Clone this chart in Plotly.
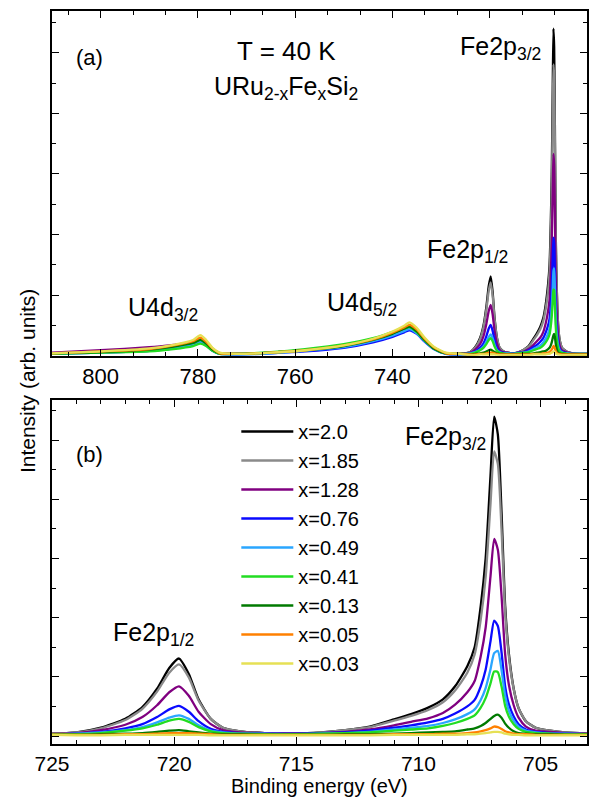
import plotly.graph_objects as go

# ---------------- data ----------------
# binding energy grid (eV): U 4d region + Fe 2p region
E_U = [810, 800, 790, 785, 781, 779.5, 778.3, 777, 775.5, 772, 765, 758, 750, 744,
       740, 737.5, 736.5, 735, 733.5, 731.5, 729, 726]
E_FE = [724, 723, 722, 721.3, 720.7, 720.2, 719.8, 719.4, 719.0, 718.5, 718, 717.3,
        716.3, 715, 714, 713, 712, 711, 710.3, 709.6, 709, 708.5, 708, 707.7, 707.45,
        707.25, 707.05, 706.9, 706.75, 706.6, 706.45, 706.3, 706.1, 705.9, 705.6,
        705.2, 704.6, 704, 703, 701.5, 700]
energy = E_U + E_FE

labels = ["x=2.0", "x=1.85", "x=1.28", "x=0.76", "x=0.49", "x=0.41", "x=0.13", "x=0.05", "x=0.03"]
colors = ["#000000", "#8a8a8a", "#800080", "#0a0aff", "#2aa6ff", "#22dd22", "#007a00", "#ff8000", "#e6e055"]

I_200 = [0.04, 0.07, 0.11, 0.16, 0.22, 0.27, 0.21, 0.11, 0.04, 0.03, 0.05, 0.09, 0.17, 0.27, 0.37, 0.45, 0.48, 0.40, 0.27, 0.13, 0.04, 0.03,
         0.06, 0.14, 0.29, 0.49, 0.80, 1.15, 1.31, 1.05, 0.62, 0.29, 0.14, 0.08, 0.05, 0.04, 0.06, 0.10, 0.16, 0.28, 0.37, 0.48,
         0.62, 0.84, 1.18, 1.50, 2.20, 3.00, 4.40, 5.40, 5.10, 3.80, 2.20, 1.40, 0.80, 0.47, 0.25, 0.14, 0.09, 0.06, 0.04, 0.03, 0.03]
I_185 = [0.04, 0.07, 0.11, 0.16, 0.22, 0.26, 0.20, 0.10, 0.04, 0.03, 0.05, 0.09, 0.17, 0.27, 0.37, 0.44, 0.47, 0.39, 0.26, 0.12, 0.04, 0.03,
         0.06, 0.13, 0.27, 0.46, 0.75, 1.07, 1.21, 0.99, 0.60, 0.29, 0.14, 0.08, 0.05, 0.04, 0.06, 0.10, 0.15, 0.26, 0.34, 0.44,
         0.57, 0.77, 1.07, 1.38, 1.97, 2.68, 3.92, 4.81, 4.60, 3.50, 2.10, 1.35, 0.79, 0.47, 0.25, 0.14, 0.09, 0.06, 0.04, 0.03, 0.03]
I_128 = [0.05, 0.09, 0.14, 0.18, 0.22, 0.26, 0.20, 0.10, 0.04, 0.03, 0.05, 0.09, 0.17, 0.27, 0.37, 0.44, 0.47, 0.39, 0.26, 0.12, 0.04, 0.03,
         0.05, 0.10, 0.19, 0.32, 0.52, 0.74, 0.84, 0.68, 0.41, 0.20, 0.10, 0.06, 0.05, 0.04, 0.05, 0.07, 0.11, 0.18, 0.24, 0.30,
         0.39, 0.53, 0.74, 0.93, 1.35, 1.83, 2.70, 3.33, 3.15, 2.38, 1.38, 0.87, 0.52, 0.31, 0.16, 0.09, 0.07, 0.05, 0.04, 0.03, 0.03]
I_076 = [0.03, 0.05, 0.08, 0.12, 0.18, 0.22, 0.17, 0.08, 0.03, 0.02, 0.04, 0.07, 0.13, 0.22, 0.31, 0.39, 0.42, 0.36, 0.24, 0.11, 0.03, 0.02,
         0.04, 0.07, 0.13, 0.20, 0.32, 0.45, 0.51, 0.41, 0.25, 0.12, 0.07, 0.05, 0.04, 0.04, 0.05, 0.06, 0.09, 0.14, 0.18, 0.23,
         0.29, 0.38, 0.50, 0.61, 0.84, 1.12, 1.60, 1.95, 1.86, 1.42, 0.84, 0.54, 0.33, 0.20, 0.11, 0.07, 0.05, 0.04, 0.03, 0.03, 0.03]
I_049 = [0.03, 0.05, 0.08, 0.12, 0.19, 0.23, 0.18, 0.09, 0.03, 0.02, 0.04, 0.08, 0.14, 0.24, 0.33, 0.41, 0.44, 0.37, 0.25, 0.11, 0.03, 0.02,
         0.04, 0.06, 0.10, 0.15, 0.23, 0.31, 0.35, 0.29, 0.18, 0.09, 0.06, 0.04, 0.04, 0.03, 0.04, 0.05, 0.07, 0.11, 0.14, 0.17,
         0.22, 0.28, 0.37, 0.45, 0.61, 0.81, 1.13, 1.40, 1.44, 1.12, 0.68, 0.43, 0.26, 0.16, 0.09, 0.06, 0.04, 0.04, 0.03, 0.03, 0.03]
I_041 = [0.03, 0.05, 0.07, 0.11, 0.16, 0.20, 0.16, 0.08, 0.03, 0.03, 0.06, 0.11, 0.19, 0.29, 0.39, 0.45, 0.47, 0.39, 0.26, 0.12, 0.04, 0.03,
         0.03, 0.05, 0.09, 0.13, 0.19, 0.26, 0.29, 0.24, 0.15, 0.08, 0.05, 0.04, 0.03, 0.03, 0.04, 0.05, 0.06, 0.09, 0.11, 0.13,
         0.17, 0.22, 0.29, 0.35, 0.48, 0.64, 0.89, 1.09, 1.08, 0.84, 0.51, 0.33, 0.20, 0.12, 0.07, 0.05, 0.04, 0.03, 0.03, 0.03, 0.03]
I_013 = [0.04, 0.06, 0.10, 0.15, 0.21, 0.26, 0.20, 0.10, 0.04, 0.03, 0.05, 0.09, 0.16, 0.26, 0.36, 0.45, 0.48, 0.40, 0.27, 0.12, 0.04, 0.03,
         0.02, 0.03, 0.04, 0.05, 0.07, 0.09, 0.10, 0.08, 0.06, 0.04, 0.03, 0.03, 0.02, 0.02, 0.02, 0.03, 0.03, 0.04, 0.05, 0.06,
         0.07, 0.08, 0.11, 0.13, 0.17, 0.22, 0.29, 0.34, 0.36, 0.31, 0.21, 0.14, 0.08, 0.05, 0.04, 0.03, 0.03, 0.02, 0.02, 0.02, 0.02]
I_005 = [0.04, 0.07, 0.11, 0.17, 0.24, 0.30, 0.23, 0.12, 0.04, 0.03, 0.05, 0.09, 0.17, 0.27, 0.38, 0.47, 0.51, 0.43, 0.29, 0.14, 0.04, 0.03,
         0.02, 0.02, 0.03, 0.03, 0.04, 0.05, 0.05, 0.05, 0.04, 0.03, 0.02, 0.02, 0.02, 0.02, 0.02, 0.02, 0.02, 0.03, 0.03, 0.03,
         0.04, 0.04, 0.05, 0.06, 0.08, 0.10, 0.13, 0.16, 0.15, 0.12, 0.08, 0.06, 0.04, 0.03, 0.03, 0.02, 0.02, 0.02, 0.02, 0.02, 0.02]
I_003 = [0.04, 0.07, 0.12, 0.18, 0.26, 0.34, 0.26, 0.13, 0.05, 0.03, 0.05, 0.09, 0.17, 0.28, 0.40, 0.50, 0.55, 0.46, 0.31, 0.15, 0.05, 0.03,
         0.01, 0.01, 0.02, 0.02, 0.02, 0.02, 0.02, 0.02, 0.02, 0.01, 0.01, 0.01, 0.01, 0.01, 0.01, 0.01, 0.01, 0.02, 0.02, 0.02,
         0.02, 0.02, 0.03, 0.03, 0.04, 0.05, 0.06, 0.07, 0.07, 0.06, 0.04, 0.03, 0.02, 0.02, 0.01, 0.01, 0.01, 0.01, 0.01, 0.01, 0.01]
series = [I_200, I_185, I_128, I_076, I_049, I_041, I_013, I_005, I_003]

TOP_TICKS = [800, 780, 760, 740, 720]
BOT_TICKS = [725, 720, 715, 710, 705]

# ---------------- figure ----------------
W, H = 594, 798
ML, MR, MT, MB = 52, 5, 11, 54
PW, PH = W - ML - MR, H - MT - MB


def px(x):
    return (x - ML) / PW


def py(y):
    return (H - MB - y) / PH


FONT = "Liberation Sans, Arial, sans-serif"
fig = go.Figure()

for name, col, ys in zip(labels, colors, series):
    fig.add_trace(go.Scatter(x=energy, y=ys, mode="lines", name=name, showlegend=False,
                             line=dict(color=col, width=2.3, shape="spline", smoothing=0.6),
                             xaxis="x", yaxis="y"))
for name, col, ys in zip(labels, colors, series):
    fig.add_trace(go.Scatter(x=energy, y=ys, mode="lines", name=name, showlegend=True,
                             line=dict(color=col, width=2.3, shape="spline", smoothing=0.6),
                             xaxis="x2", yaxis="y2"))

axis_common = dict(showline=True, linecolor="black", linewidth=1.5, mirror="allticks",
                   ticks="inside", ticklen=7, tickwidth=1.3, tickcolor="black",
                   showgrid=False, zeroline=False,
                   tickfont=dict(family=FONT, size=22, color="black"))
minor_common = dict(ticks="inside", ticklen=4, tickwidth=1.3, tickcolor="black", showgrid=False)

fig.update_layout(
    width=W, height=H,
    margin=dict(l=ML, r=MR, t=MT, b=MB),
    paper_bgcolor="white", plot_bgcolor="white",
    font=dict(family=FONT, size=22, color="black"),
    xaxis=dict(axis_common, domain=[0, 1], anchor="y", range=[810, 700],
               tickmode="array", tickvals=TOP_TICKS,
               minor=dict(minor_common, tickmode="linear", tick0=700, dtick=20 / 3)),
    yaxis=dict(axis_common, domain=[py(355.7), 1], anchor="x", range=[0, 5.69],
               tick0=0, dtick=1, showticklabels=False,
               minor=dict(minor_common, tick0=0, dtick=0.5)),
    xaxis2=dict(axis_common, domain=[0, 1], anchor="y2", range=[725, 703.1],
                tickmode="array", tickvals=BOT_TICKS, ticklabelstandoff=0,
                tickfont=dict(family=FONT, size=21, color="black"),
                minor=dict(minor_common, tickmode="linear", tick0=700, dtick=1)),
    yaxis2=dict(axis_common, domain=[0, py(400)], anchor="x2", range=[-0.135, 5.68],
                tick0=0, dtick=1, showticklabels=False,
                minor=dict(minor_common, tick0=0, dtick=0.5)),
    legend=dict(x=px(237), y=py(412), xanchor="left", yanchor="top",
                bgcolor="rgba(0,0,0,0)", font=dict(family=FONT, size=20, color="black"),
                itemwidth=52, tracegroupgap=0),
    showlegend=True,
)

ann = [
    dict(text="(a)", x=px(90), y=py(57), xanchor="center", yanchor="middle", size=22),
    dict(text="T = 40 K", x=px(287), y=py(51), xanchor="center", yanchor="middle", size=26),
    dict(text="URu<sub>2-x</sub>Fe<sub>x</sub>Si<sub>2</sub>", x=px(213), y=py(88), xanchor="left", yanchor="middle", size=25),
    dict(text="Fe2p<sub>3/2</sub>", x=px(460), y=py(48), xanchor="left", yanchor="middle", size=25),
    dict(text="Fe2p<sub>1/2</sub>", x=px(426), y=py(251), xanchor="left", yanchor="middle", size=25),
    dict(text="U4d<sub>5/2</sub>", x=px(326), y=py(304), xanchor="left", yanchor="middle", size=25),
    dict(text="U4d<sub>3/2</sub>", x=px(126), y=py(309), xanchor="left", yanchor="middle", size=25),
    dict(text="(b)", x=px(90), y=py(454), xanchor="center", yanchor="middle", size=22),
    dict(text="Fe2p<sub>1/2</sub>", x=px(111), y=py(634), xanchor="left", yanchor="middle", size=25),
    dict(text="Fe2p<sub>3/2</sub>", x=px(404), y=py(438), xanchor="left", yanchor="middle", size=25),
]
annotations = []
for a in ann:
    annotations.append(dict(text=a["text"], x=a["x"], y=a["y"], xref="paper", yref="paper",
                            xanchor=a["xanchor"], yanchor=a["yanchor"], showarrow=False,
                            font=dict(family=FONT, size=a["size"], color="black")))
annotations.append(dict(text="Intensity (arb. units)", x=px(27), y=py(381), xref="paper", yref="paper",
                        xanchor="center", yanchor="middle", textangle=-90, showarrow=False,
                        font=dict(family=FONT, size=21, color="black")))
annotations.append(dict(text="Binding energy (eV)", x=px(321), y=py(798), xref="paper", yref="paper",
                        xanchor="center", yanchor="bottom", showarrow=False, borderpad=0,
                        font=dict(family=FONT, size=20, color="black")))
fig.update_layout(annotations=annotations)

fig.write_html("out.html")
